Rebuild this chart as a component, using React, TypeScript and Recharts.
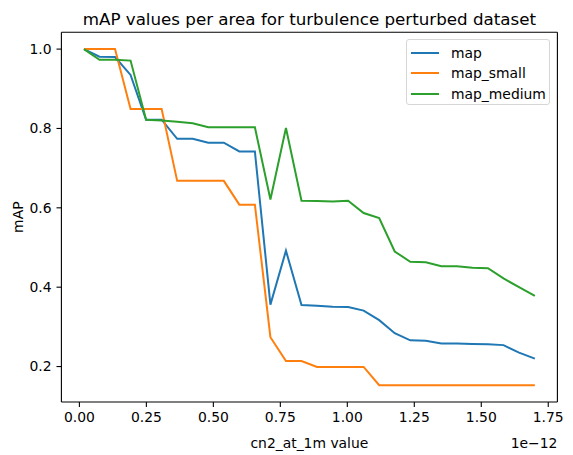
import { LineChart, Line, XAxis, YAxis, ReferenceLine } from "recharts";

// cn2 at 1 m, one entry per evaluated turbulence strength
const cn2At1m = [
  0.017e-12, 0.075e-12, 0.133e-12, 0.191e-12, 0.249e-12, 0.307e-12,
  0.365e-12, 0.423e-12, 0.481e-12, 0.539e-12, 0.597e-12, 0.655e-12,
  0.713e-12, 0.771e-12, 0.829e-12, 0.887e-12, 0.945e-12, 1.003e-12,
  1.061e-12, 1.119e-12, 1.177e-12, 1.235e-12, 1.293e-12, 1.351e-12,
  1.409e-12, 1.467e-12, 1.525e-12, 1.583e-12, 1.641e-12, 1.7e-12,
];

const mapAll = [
  1.0, 0.981, 0.98, 0.935, 0.822, 0.822, 0.774, 0.774, 0.764, 0.764,
  0.742, 0.742, 0.356, 0.492, 0.355, 0.353, 0.351, 0.35, 0.341, 0.317,
  0.284, 0.266, 0.265, 0.258, 0.258, 0.257, 0.256, 0.254, 0.235, 0.22,
];

const mapSmall = [
  1.0, 1.0, 1.0, 0.849, 0.849, 0.849, 0.668, 0.668, 0.668, 0.668,
  0.608, 0.608, 0.274, 0.214, 0.214, 0.199, 0.199, 0.199, 0.199, 0.153,
  0.153, 0.153, 0.153, 0.153, 0.153, 0.153, 0.153, 0.153, 0.153, 0.153,
];

const mapMedium = [
  1.0, 0.973, 0.973, 0.971, 0.822, 0.82, 0.817, 0.813, 0.803, 0.803,
  0.803, 0.803, 0.621, 0.801, 0.618, 0.617, 0.616, 0.618, 0.587, 0.574,
  0.49, 0.464, 0.463, 0.453, 0.453, 0.449, 0.448, 0.422, 0.4, 0.378,
];

const xTicks = [0, 0.25e-12, 0.5e-12, 0.75e-12, 1.0e-12, 1.25e-12, 1.5e-12, 1.75e-12];
const yTicks = [0.2, 0.4, 0.6, 0.8, 1.0];

const series = [
  { key: "map", color: "#1f77b4" },
  { key: "map_small", color: "#ff7f0e" },
  { key: "map_medium", color: "#2ca02c" },
];

const rows = cn2At1m.map((x, i) => ({
  x,
  map: mapAll[i],
  map_small: mapSmall[i],
  map_medium: mapMedium[i],
}));

// matplotlib-style 5% padding around the data
function padded(values: number[]): [number, number] {
  const lo = Math.min(...values);
  const hi = Math.max(...values);
  const pad = (hi - lo) * 0.05;
  return [lo - pad, hi + pad];
}

const xDomain = padded(cn2At1m);
const yDomain = padded([...mapAll, ...mapSmall, ...mapMedium]);

const FONT = "DejaVu Sans, sans-serif";
const W = 573;
const H = 455;
const spine = { stroke: "#000", strokeWidth: 1.1 };

function LegendBox() {
  return (
    <div
      style={{
        position: "absolute",
        left: 406,
        top: 39.3,
        width: 144,
        height: 66,
        boxSizing: "border-box",
        border: "1px solid #d6d6d6",
        borderRadius: 3,
        background: "#fff",
        padding: "2px 0 0 4px",
        fontFamily: FONT,
        fontSize: 13.9,
        color: "#000",
      }}
    >
      {series.map((s) => (
        <div key={s.key} style={{ display: "flex", alignItems: "center", height: 20.6 }}>
          <div style={{ width: 28, height: 2, background: s.color, marginRight: 12 }} />
          <span>{s.key}</span>
        </div>
      ))}
    </div>
  );
}

export default function App() {
  const tickStyle = { fill: "#000", fontSize: 13.9, fontFamily: FONT };
  return (
    <div style={{ position: "absolute", left: 0, top: 0, width: W, height: H, background: "#fff" }}>
      <LineChart
        width={W}
        height={H}
        data={rows}
        margin={{ top: 32.3, right: 15.6, bottom: 23, left: 0 }}
      >
        <XAxis
          dataKey="x"
          type="number"
          domain={xDomain}
          ticks={xTicks}
          allowDataOverflow
          tickFormatter={(v: number) => (v / 1e-12).toFixed(2)}
          height={30}
          tickSize={4.9}
          tickMargin={5}
          tick={tickStyle}
          axisLine={spine}
          tickLine={spine}
        />
        <YAxis
          type="number"
          domain={yDomain}
          ticks={yTicks}
          allowDataOverflow
          tickFormatter={(v: number) => v.toFixed(1)}
          width={61.4}
          tickSize={4.9}
          tickMargin={5}
          tick={tickStyle}
          axisLine={spine}
          tickLine={spine}
        />
        {/* top and right frame edges */}
        <ReferenceLine y={yDomain[1]} {...spine} />
        <ReferenceLine x={xDomain[1]} {...spine} />
        {series.map((s) => (
          <Line
            key={s.key}
            type="linear"
            dataKey={s.key}
            stroke={s.color}
            strokeWidth={2}
            dot={false}
            activeDot={false}
            isAnimationActive={false}
          />
        ))}
      </LineChart>
      <LegendBox />
      <svg
        width={W}
        height={H}
        style={{ position: "absolute", left: 0, top: 0, pointerEvents: "none" }}
        fontFamily={FONT}
      >
        <text x={309.4} y={24.5} textAnchor="middle" fontSize={16.7} fill="#000">
          mAP values per area for turbulence perturbed dataset
        </text>
        <text x={309.4} y={448} textAnchor="middle" fontSize={13.9} fill="#000">
          cn2_at_1m value
        </text>
        <text x={557.4} y={448} textAnchor="end" fontSize={13.9} fill="#000">
          1e−12
        </text>
        <text
          x={0}
          y={0}
          transform="translate(23,217.2) rotate(-90)"
          textAnchor="middle"
          fontSize={13.9}
          fill="#000"
        >
          mAP
        </text>
      </svg>
    </div>
  );
}
